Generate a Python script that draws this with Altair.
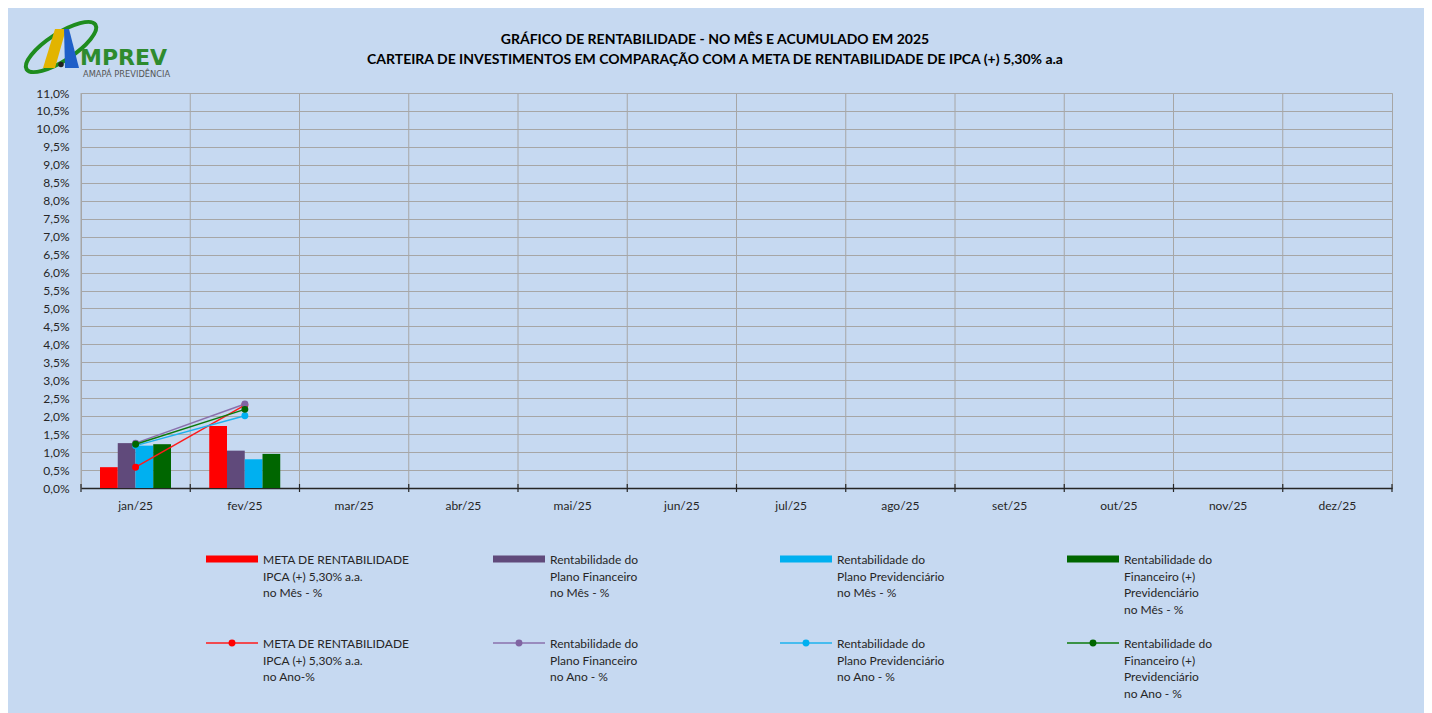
import altair as alt
import pandas as pd

# ---------------- data ----------------
months = ["jan/25", "fev/25", "mar/25", "abr/25", "mai/25", "jun/25",
          "jul/25", "ago/25", "set/25", "out/25", "nov/25", "dez/25"]
data_months = ["jan/25", "fev/25"]

# monthly returns (%) - bars
meta_mes = [0.58, 1.73]
fin_mes = [1.25, 1.04]
prev_mes = [1.18, 0.80]
fp_mes = [1.22, 0.95]

# accumulated in the year (%) - lines
meta_ano = [0.58, 2.31]
fin_ano = [1.25, 2.34]
prev_ano = [1.18, 2.01]
fp_ano = [1.22, 2.19]

y_ticks = [0.0, 0.5, 1.0, 1.5, 2.0, 2.5, 3.0, 3.5, 4.0, 4.5, 5.0, 5.5,
           6.0, 6.5, 7.0, 7.5, 8.0, 8.5, 9.0, 9.5, 10.0, 10.5, 11.0]

bar_keys = ["meta_mes", "fin_mes", "prev_mes", "fp_mes"]
bar_values = [meta_mes, fin_mes, prev_mes, fp_mes]
bar_colors = ["#FF0000", "#604A7B", "#00B0F0", "#006600"]

line_keys = ["meta_ano", "fin_ano", "prev_ano", "fp_ano"]
line_values = [meta_ano, fin_ano, prev_ano, fp_ano]
line_colors = ["#FF1A1A", "#8A70AD", "#1DB2EE", "#0B7A0B"]
marker_colors = ["#FF0000", "#8064A2", "#00B0F0", "#006600"]

legend_bar_labels = [
    "META DE RENTABILIDADE\nIPCA (+) 5,30% a.a.\nno Mês - %",
    "Rentabilidade do\nPlano Financeiro\nno Mês - %",
    "Rentabilidade do\nPlano Previdenciário\nno Mês - %",
    "Rentabilidade do\nFinanceiro (+)\nPrevidenciário\nno Mês - %",
]
legend_line_labels = [
    "META DE RENTABILIDADE\nIPCA (+) 5,30% a.a.\nno Ano-%",
    "Rentabilidade do\nPlano Financeiro\nno Ano - %",
    "Rentabilidade do\nPlano Previdenciário\nno Ano - %",
    "Rentabilidade do\nFinanceiro (+)\nPrevidenciário\nno Ano - %",
]

title_line1 = "GRÁFICO DE RENTABILIDADE - NO MÊS E ACUMULADO EM 2025"
title_line2 = ("CARTEIRA DE INVESTIMENTOS EM COMPARAÇÃO COM A META DE "
               "RENTABILIDADE DE IPCA (+) 5,30% a.a")

FONT = "Lato"
BG = "#C6D9F1"
GRID = "#A6A6A6"
TXT = "#262626"

# ---------------- tables ----------------
bars_rows = []
for k, vals in zip(bar_keys, bar_values):
    for m, v in zip(data_months, vals):
        bars_rows.append({"month": m, "series": k, "value": v})
bars_df = pd.DataFrame(bars_rows)
months_df = pd.DataFrame({"month": months})

# ---------------- scales / axes ----------------
x_scale = alt.Scale(domain=months, paddingInner=0, paddingOuter=0)
y_scale = alt.Scale(domain=[0, 11], nice=False)

x_axis = alt.Axis(grid=False, ticks=False, domainColor=TXT, domainWidth=1.5,
                  labelFont=FONT, labelFontSize=12, labelColor=TXT,
                  labelPadding=12, labelAngle=0, title=None)
y_axis = alt.Axis(values=y_ticks,
                  labelExpr="replace(format(datum.value, '.1f'), '.', ',') + '%'",
                  grid=True, gridColor=GRID, gridWidth=1, domain=False,
                  ticks=False, labelPadding=12, labelFont=FONT,
                  labelFontSize=12, labelColor=TXT, title=None)

X = alt.X("month:N", sort=months, scale=x_scale, axis=x_axis)
X0 = alt.X("month:N", sort=months, scale=x_scale, axis=x_axis, bandPosition=0)
X1 = alt.X("month:N", sort=months, scale=x_scale, axis=x_axis, bandPosition=1)
Y = alt.Y("value:Q", scale=y_scale, axis=y_axis)

# vertical grid lines at the category boundaries
vgrid = alt.Chart(months_df).mark_rule(color=GRID, strokeWidth=1).encode(
    x=X0,
    y=alt.YDatum(0, type="quantitative", scale=y_scale, axis=y_axis),
    y2=alt.Y2Datum(11),
)
# crossing tick marks on the category axis
xticks = alt.Chart(months_df).mark_rule(color=TXT, strokeWidth=1.2).encode(
    x=X0, y=alt.value(391), y2=alt.value(399)
)
xtick_end = alt.Chart(months_df).transform_filter(
    alt.datum.month == months[-1]
).mark_rule(color=TXT, strokeWidth=1.2).encode(
    x=X1, y=alt.value(391), y2=alt.value(399)
)

bars = alt.Chart(bars_df).mark_bar().encode(
    x=X,
    xOffset=alt.XOffset("series:N", sort=bar_keys,
                        scale=alt.Scale(domain=bar_keys, paddingInner=0,
                                        paddingOuter=0, range=[19, 90])),
    y=Y,
    color=alt.Color("series:N", scale=alt.Scale(domain=bar_keys, range=bar_colors),
                    legend=None),
)

main_layers = [vgrid, bars]
for k, vals, lc, mc in zip(line_keys, line_values, line_colors, marker_colors):
    df = pd.DataFrame({"month": data_months, "value": vals})
    main_layers.append(alt.Chart(df).mark_line(color=lc, strokeWidth=1.5).encode(x=X, y=Y))
    main_layers.append(alt.Chart(df).mark_circle(color=mc, size=48, opacity=1).encode(x=X, y=Y))
main_layers += [xticks, xtick_end]
main = alt.layer(*main_layers)

# ---------------- legend panel ----------------
leg_rows = []
for i in range(4):
    leg_rows.append({"col": i, "row": 0, "label": legend_bar_labels[i],
                     "sym": bar_colors[i], "line": bar_colors[i]})
for i in range(4):
    leg_rows.append({"col": i, "row": 1, "label": legend_line_labels[i],
                     "sym": marker_colors[i], "line": line_colors[i]})
leg_df = pd.DataFrame(leg_rows)

LX = alt.X("col:Q", scale=alt.Scale(domain=[0, 3], range=[151, 1012]), axis=None)
LY = alt.Y("row:Q", scale=alt.Scale(domain=[0, 1], range=[466, 550]), axis=None)

rect_path = "M -1 -0.13 L 1 -0.13 L 1 0.13 L -1 0.13 Z"
line_path = "M -1 0 L 1 0"

leg_base = alt.Chart(leg_df)
leg_rect = leg_base.transform_filter("datum.row == 0").mark_point(
    shape=rect_path, filled=True, size=2704, opacity=1, strokeWidth=0
).encode(x=LX, y=LY, color=alt.Color("sym:N", scale=None))
leg_line = leg_base.transform_filter("datum.row == 1").mark_point(
    shape=line_path, filled=False, size=2704, opacity=1, strokeWidth=1.5
).encode(x=LX, y=LY, color=alt.Color("line:N", scale=None))
leg_dot = leg_base.transform_filter("datum.row == 1").mark_circle(
    size=48, opacity=1
).encode(x=LX, y=LY, color=alt.Color("sym:N", scale=None))
leg_text = leg_base.mark_text(
    align="left", baseline="top", dx=31, dy=-4, lineBreak="\n", lineHeight=16.7,
    font=FONT, fontSize=12, color=TXT
).encode(x=LX, y=LY, text="label:N")
legend = alt.layer(leg_rect, leg_line, leg_dot, leg_text)

# ---------------- title & logo ----------------
one = pd.DataFrame({"a": [0]})
tc = alt.Chart(one)
title = alt.layer(
    tc.mark_text(text=title_line1, align="center", baseline="middle", font=FONT,
                 fontSize=14, fontWeight="bold", color="#000000").encode(
        x=alt.value(634), y=alt.value(-53)),
    tc.mark_text(text=title_line2, align="center", baseline="middle", font=FONT,
                 fontSize=14, fontWeight="bold", color="#000000").encode(
        x=alt.value(634), y=alt.value(-33)),
)

ring_path = ("M -0.839 0.545 A 1 0.33 -33 1 0 0.839 -0.545 "
             "A 1 0.33 -33 1 0 -0.839 0.545 Z")
yellow_path = "M -0.45 0.525 L -0.15 0.525 L 0.125 -0.45 L -0.15 -0.45 Z"
blue_path = "M 0.075 -0.45 L 0.2 -0.45 L 0.45 0.525 L 0.1 0.525 Z"
LOGO_X, LOGO_Y = -20, -46
logo = alt.layer(
    tc.mark_point(shape=ring_path, filled=False, size=6724, strokeWidth=4,
                  color="#1E8C1E", opacity=1).encode(x=alt.value(LOGO_X), y=alt.value(LOGO_Y)),
    tc.mark_point(shape=yellow_path, filled=True, size=6400, strokeWidth=0,
                  color="#E2B400", opacity=1).encode(x=alt.value(LOGO_X), y=alt.value(LOGO_Y)),
    tc.mark_point(shape=blue_path, filled=True, size=6400, strokeWidth=0,
                  color="#1F5FC8", opacity=1).encode(x=alt.value(LOGO_X), y=alt.value(LOGO_Y)),
    tc.mark_circle(size=30, color="#222222", opacity=1).encode(
        x=alt.value(-20), y=alt.value(-28.5)),
    tc.mark_text(text="MPREV", align="left", baseline="alphabetic",
                 font="DejaVu Sans", fontSize=22, fontWeight="bold",
                 color="#2E8B2E").encode(x=alt.value(-1), y=alt.value(-28)),
    tc.mark_text(text="AMAPÁ PREVIDÊNCIA", align="left", baseline="alphabetic",
                 font="DejaVu Sans", fontSize=8.3, color="#555555").encode(
        x=alt.value(2), y=alt.value(-16)),
)

chart = alt.layer(main, legend, title, logo).resolve_scale(
    x="independent", y="independent", color="independent"
).properties(
    width=1311,
    height=395,
    autosize=alt.AutoSizeParams(type="none"),
    padding={"left": 73, "top": 85, "right": 32, "bottom": 225},
    background=BG,
).configure_view(stroke=GRID, strokeWidth=1)

chart.save("out.html", embed_options={"renderer": "svg", "actions": False})
